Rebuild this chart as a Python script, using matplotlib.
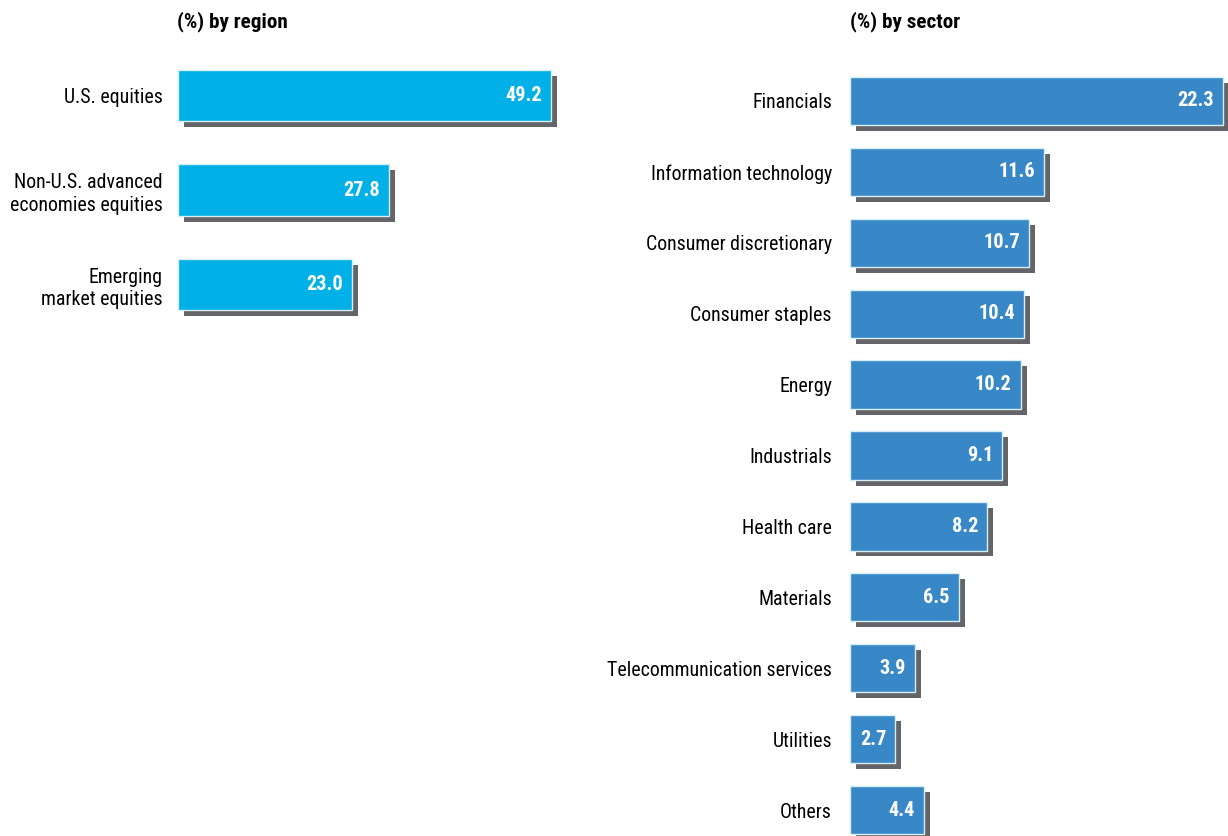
import matplotlib
matplotlib.use("Agg")
import matplotlib.pyplot as plt
import matplotlib.patheffects as pe

plt.rcParams['font.family'] = ['Roboto Condensed', 'Roboto', 'DejaVu Sans']

# data
regions = ["U.S. equities", "Non-U.S. advanced\neconomies equities", "Emerging\nmarket equities"]
region_vals = [49.2, 27.8, 23.0]

sectors = ["Financials", "Information technology", "Consumer discretionary", "Consumer staples",
           "Energy", "Industrials", "Health care", "Materials", "Telecommunication services",
           "Utilities", "Others"]
sector_vals = [22.3, 11.6, 10.7, 10.4, 10.2, 9.1, 8.2, 6.5, 3.9, 2.7, 4.4]

region_color = "#00b0e6"
sector_color = "#3888c8"
shadow_color = "#646469"
edge_color = "#d6eef8"

W, H = 1228, 836
fig = plt.figure(figsize=(W / 100, H / 100), dpi=100)

shadow = [pe.SimplePatchShadow(offset=(4.3, -4.3), shadow_rgbFace=shadow_color, alpha=1.0),
          pe.Normal()]

FS = 14.3
FS_VAL = 14.6
FS_TITLE = 15.2


def draw_panel(ax, labels, vals, color, height, pad):
    ypos = list(range(len(vals)))
    bars = ax.barh(ypos, vals, height=height, color=color, edgecolor=edge_color,
                   linewidth=1.0, clip_on=False)
    for b in bars:
        b.set_path_effects(shadow)
    for y, v in zip(ypos, vals):
        ax.annotate(f"{v:.1f}", xy=(v, y), xytext=(-9, 0), textcoords="offset pixels",
                    ha="right", va="center", color="white", fontsize=FS_VAL,
                    fontweight="bold")
    ax.set_yticks(ypos)
    ax.set_yticklabels(labels, fontsize=FS, multialignment="right", linespacing=1.25)
    ax.tick_params(axis="y", length=0, pad=pad)
    ax.set_xticks([])
    ax.set_xlim(0, max(vals))
    for s in ax.spines.values():
        s.set_visible(False)
    ax.patch.set_alpha(0)


# left panel: by region
axL = fig.add_axes([178 / W, 1 - 332 / H, 373 / W, 284 / H])
draw_panel(axL, regions, region_vals, region_color, 0.54, 15 * 0.72)
axL.set_ylim(2.5, -0.5)

# right panel: by sector
axR = fig.add_axes([850 / W, 1 - 845.5 / H, 373 / W, 780 / H])
draw_panel(axR, sectors, sector_vals, sector_color, 0.68, 18 * 0.72)
axR.set_ylim(10.5, -0.5)

fig.text(177 / W, 1 - 22 / H, "(%) by region", fontsize=FS_TITLE, fontweight="bold",
         va="center", ha="left")
fig.text(850 / W, 1 - 22 / H, "(%) by sector", fontsize=FS_TITLE, fontweight="bold",
         va="center", ha="left")

fig.savefig("out.png", dpi=100)
